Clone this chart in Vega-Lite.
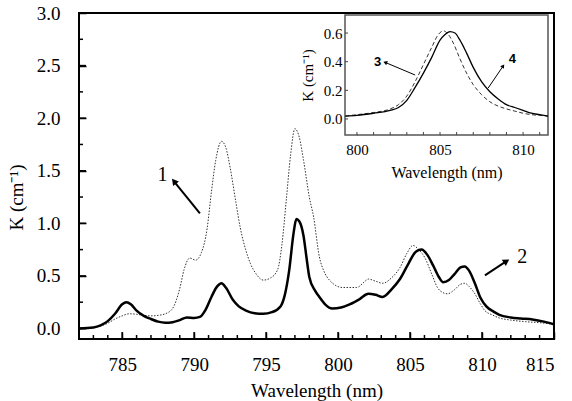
{
  "$schema": "https://vega.github.io/schema/vega-lite/v6.json",
  "width": 475,
  "height": 326,
  "autosize": "none",
  "padding": {"left": 79, "top": 13, "right": 18, "bottom": 62},
  "background": "white",
  "config": {
    "view": {"stroke": "black", "strokeWidth": 2},
    "font": "Liberation Serif",
    "axis": {"grid": false, "domain": false, "labelColor": "black", "titleColor": "black", "titleFontWeight": "normal", "labelFont": "Liberation Serif", "titleFont": "Liberation Serif", "labelOverlap": false}
  },
  "datasets": {
    "main": [
      {"wl": 782, "K": 0.0, "series": "1"}, {"wl": 783, "K": 0.01, "series": "1"}, {"wl": 784, "K": 0.05, "series": "1"}, {"wl": 784.5, "K": 0.09, "series": "1"}, {"wl": 785, "K": 0.12, "series": "1"}, {"wl": 785.5, "K": 0.14, "series": "1"}, {"wl": 786, "K": 0.135, "series": "1"}, {"wl": 786.5, "K": 0.125, "series": "1"}, {"wl": 787, "K": 0.12, "series": "1"}, {"wl": 787.5, "K": 0.125, "series": "1"}, {"wl": 788, "K": 0.14, "series": "1"}, {"wl": 788.5, "K": 0.19, "series": "1"}, {"wl": 789, "K": 0.38, "series": "1"}, {"wl": 789.3, "K": 0.56, "series": "1"}, {"wl": 789.7, "K": 0.67, "series": "1"}, {"wl": 790.1, "K": 0.65, "series": "1"}, {"wl": 790.5, "K": 0.72, "series": "1"}, {"wl": 790.9, "K": 0.95, "series": "1"}, {"wl": 791.2, "K": 1.3, "series": "1"}, {"wl": 791.5, "K": 1.6, "series": "1"}, {"wl": 791.9, "K": 1.78, "series": "1"}, {"wl": 792.2, "K": 1.72, "series": "1"}, {"wl": 792.5, "K": 1.53, "series": "1"}, {"wl": 792.9, "K": 1.2, "series": "1"}, {"wl": 793.2, "K": 0.96, "series": "1"}, {"wl": 793.6, "K": 0.74, "series": "1"}, {"wl": 793.9, "K": 0.62, "series": "1"}, {"wl": 794.3, "K": 0.52, "series": "1"}, {"wl": 794.8, "K": 0.46, "series": "1"}, {"wl": 795.3, "K": 0.48, "series": "1"}, {"wl": 795.8, "K": 0.56, "series": "1"}, {"wl": 796.1, "K": 0.8, "series": "1"}, {"wl": 796.4, "K": 1.22, "series": "1"}, {"wl": 796.7, "K": 1.65, "series": "1"}, {"wl": 797.0, "K": 1.9, "series": "1"}, {"wl": 797.3, "K": 1.82, "series": "1"}, {"wl": 797.6, "K": 1.6, "series": "1"}, {"wl": 798.0, "K": 1.25, "series": "1"}, {"wl": 798.3, "K": 1.06, "series": "1"}, {"wl": 798.7, "K": 0.68, "series": "1"}, {"wl": 799.0, "K": 0.55, "series": "1"}, {"wl": 799.4, "K": 0.46, "series": "1"}, {"wl": 800.3, "K": 0.39, "series": "1"}, {"wl": 801.3, "K": 0.39, "series": "1"}, {"wl": 801.8, "K": 0.44, "series": "1"}, {"wl": 802.1, "K": 0.47, "series": "1"}, {"wl": 802.6, "K": 0.45, "series": "1"}, {"wl": 803.1, "K": 0.43, "series": "1"}, {"wl": 803.7, "K": 0.48, "series": "1"}, {"wl": 804.3, "K": 0.58, "series": "1"}, {"wl": 804.8, "K": 0.72, "series": "1"}, {"wl": 805.2, "K": 0.79, "series": "1"}, {"wl": 805.6, "K": 0.75, "series": "1"}, {"wl": 806.0, "K": 0.68, "series": "1"}, {"wl": 806.5, "K": 0.52, "series": "1"}, {"wl": 806.9, "K": 0.39, "series": "1"}, {"wl": 807.3, "K": 0.34, "series": "1"}, {"wl": 807.6, "K": 0.33, "series": "1"}, {"wl": 808.1, "K": 0.37, "series": "1"}, {"wl": 808.5, "K": 0.42, "series": "1"}, {"wl": 808.8, "K": 0.43, "series": "1"}, {"wl": 809.1, "K": 0.4, "series": "1"}, {"wl": 809.5, "K": 0.33, "series": "1"}, {"wl": 809.9, "K": 0.23, "series": "1"}, {"wl": 810.2, "K": 0.17, "series": "1"}, {"wl": 810.7, "K": 0.13, "series": "1"}, {"wl": 811.2, "K": 0.1, "series": "1"}, {"wl": 812, "K": 0.08, "series": "1"}, {"wl": 813, "K": 0.065, "series": "1"}, {"wl": 814, "K": 0.055, "series": "1"}, {"wl": 815, "K": 0.04, "series": "1"},
      {"wl": 782, "K": 0.0, "series": "2"}, {"wl": 783, "K": 0.01, "series": "2"}, {"wl": 783.5, "K": 0.03, "series": "2"}, {"wl": 784, "K": 0.07, "series": "2"}, {"wl": 784.5, "K": 0.14, "series": "2"}, {"wl": 785, "K": 0.23, "series": "2"}, {"wl": 785.3, "K": 0.25, "series": "2"}, {"wl": 785.6, "K": 0.23, "series": "2"}, {"wl": 786, "K": 0.17, "series": "2"}, {"wl": 786.5, "K": 0.12, "series": "2"}, {"wl": 787, "K": 0.09, "series": "2"}, {"wl": 787.5, "K": 0.065, "series": "2"}, {"wl": 788, "K": 0.055, "series": "2"}, {"wl": 788.5, "K": 0.06, "series": "2"}, {"wl": 789, "K": 0.08, "series": "2"}, {"wl": 789.5, "K": 0.105, "series": "2"}, {"wl": 790, "K": 0.1, "series": "2"}, {"wl": 790.4, "K": 0.11, "series": "2"}, {"wl": 790.8, "K": 0.18, "series": "2"}, {"wl": 791.2, "K": 0.3, "series": "2"}, {"wl": 791.6, "K": 0.4, "series": "2"}, {"wl": 791.9, "K": 0.43, "series": "2"}, {"wl": 792.2, "K": 0.39, "series": "2"}, {"wl": 792.7, "K": 0.27, "series": "2"}, {"wl": 793.1, "K": 0.21, "series": "2"}, {"wl": 793.6, "K": 0.17, "series": "2"}, {"wl": 794.2, "K": 0.145, "series": "2"}, {"wl": 794.8, "K": 0.14, "series": "2"}, {"wl": 795.4, "K": 0.155, "series": "2"}, {"wl": 796.0, "K": 0.21, "series": "2"}, {"wl": 796.3, "K": 0.32, "series": "2"}, {"wl": 796.6, "K": 0.55, "series": "2"}, {"wl": 796.9, "K": 0.9, "series": "2"}, {"wl": 797.1, "K": 1.04, "series": "2"}, {"wl": 797.3, "K": 1.02, "series": "2"}, {"wl": 797.6, "K": 0.88, "series": "2"}, {"wl": 797.8, "K": 0.68, "series": "2"}, {"wl": 798.0, "K": 0.49, "series": "2"}, {"wl": 798.4, "K": 0.36, "series": "2"}, {"wl": 798.7, "K": 0.3, "series": "2"}, {"wl": 799.1, "K": 0.23, "series": "2"}, {"wl": 799.6, "K": 0.19, "series": "2"}, {"wl": 800.2, "K": 0.2, "series": "2"}, {"wl": 800.8, "K": 0.23, "series": "2"}, {"wl": 801.5, "K": 0.28, "series": "2"}, {"wl": 802.1, "K": 0.33, "series": "2"}, {"wl": 802.6, "K": 0.32, "series": "2"}, {"wl": 803.1, "K": 0.3, "series": "2"}, {"wl": 803.7, "K": 0.37, "series": "2"}, {"wl": 804.3, "K": 0.47, "series": "2"}, {"wl": 804.9, "K": 0.62, "series": "2"}, {"wl": 805.4, "K": 0.73, "series": "2"}, {"wl": 805.8, "K": 0.75, "series": "2"}, {"wl": 806.2, "K": 0.7, "series": "2"}, {"wl": 806.6, "K": 0.6, "series": "2"}, {"wl": 807.0, "K": 0.49, "series": "2"}, {"wl": 807.3, "K": 0.44, "series": "2"}, {"wl": 807.7, "K": 0.46, "series": "2"}, {"wl": 808.1, "K": 0.52, "series": "2"}, {"wl": 808.5, "K": 0.58, "series": "2"}, {"wl": 808.8, "K": 0.59, "series": "2"}, {"wl": 809.1, "K": 0.55, "series": "2"}, {"wl": 809.5, "K": 0.43, "series": "2"}, {"wl": 809.9, "K": 0.29, "series": "2"}, {"wl": 810.3, "K": 0.21, "series": "2"}, {"wl": 810.8, "K": 0.16, "series": "2"}, {"wl": 811.2, "K": 0.13, "series": "2"}, {"wl": 812, "K": 0.105, "series": "2"}, {"wl": 812.7, "K": 0.095, "series": "2"}, {"wl": 813.5, "K": 0.085, "series": "2"}, {"wl": 814.3, "K": 0.065, "series": "2"}, {"wl": 815, "K": 0.04, "series": "2"}
    ],
    "inset": [
      {"wl": 799.3, "K": 0.02, "series": "4"}, {"wl": 800, "K": 0.025, "series": "4"}, {"wl": 801, "K": 0.04, "series": "4"}, {"wl": 802, "K": 0.06, "series": "4"}, {"wl": 802.5, "K": 0.08, "series": "4"}, {"wl": 803, "K": 0.13, "series": "4"}, {"wl": 803.5, "K": 0.22, "series": "4"}, {"wl": 804, "K": 0.32, "series": "4"}, {"wl": 804.5, "K": 0.43, "series": "4"}, {"wl": 805, "K": 0.55, "series": "4"}, {"wl": 805.3, "K": 0.59, "series": "4"}, {"wl": 805.6, "K": 0.61, "series": "4"}, {"wl": 805.9, "K": 0.6, "series": "4"}, {"wl": 806.2, "K": 0.55, "series": "4"}, {"wl": 806.6, "K": 0.46, "series": "4"}, {"wl": 807, "K": 0.36, "series": "4"}, {"wl": 807.5, "K": 0.26, "series": "4"}, {"wl": 808, "K": 0.19, "series": "4"}, {"wl": 808.5, "K": 0.14, "series": "4"}, {"wl": 809, "K": 0.1, "series": "4"}, {"wl": 809.5, "K": 0.08, "series": "4"}, {"wl": 810, "K": 0.06, "series": "4"}, {"wl": 810.5, "K": 0.04, "series": "4"}, {"wl": 811, "K": 0.03, "series": "4"}, {"wl": 811.5, "K": 0.02, "series": "4"},
      {"wl": 799.3, "K": 0.02, "series": "3"}, {"wl": 800, "K": 0.03, "series": "3"}, {"wl": 801, "K": 0.045, "series": "3"}, {"wl": 802, "K": 0.07, "series": "3"}, {"wl": 802.5, "K": 0.1, "series": "3"}, {"wl": 803, "K": 0.16, "series": "3"}, {"wl": 803.5, "K": 0.26, "series": "3"}, {"wl": 804, "K": 0.38, "series": "3"}, {"wl": 804.5, "K": 0.5, "series": "3"}, {"wl": 804.9, "K": 0.59, "series": "3"}, {"wl": 805.2, "K": 0.615, "series": "3"}, {"wl": 805.5, "K": 0.59, "series": "3"}, {"wl": 805.8, "K": 0.53, "series": "3"}, {"wl": 806.2, "K": 0.42, "series": "3"}, {"wl": 806.6, "K": 0.32, "series": "3"}, {"wl": 807, "K": 0.24, "series": "3"}, {"wl": 807.5, "K": 0.17, "series": "3"}, {"wl": 808, "K": 0.12, "series": "3"}, {"wl": 808.5, "K": 0.09, "series": "3"}, {"wl": 809, "K": 0.07, "series": "3"}, {"wl": 809.5, "K": 0.055, "series": "3"}, {"wl": 810, "K": 0.04, "series": "3"}, {"wl": 810.5, "K": 0.03, "series": "3"}, {"wl": 811, "K": 0.025, "series": "3"}, {"wl": 811.5, "K": 0.02, "series": "3"}
    ],
    "mainNotes": [
      {"label": "1", "tx": 787.8, "tK": 1.46, "wl": 790.4, "K": 1.095, "wl2": 788.6, "K2": 1.4},
      {"label": "2", "tx": 812.8, "tK": 0.68, "wl": 810.2, "K": 0.505, "wl2": 811.7, "K2": 0.64}
    ],
    "insetNotes": [
      {"label": "3", "tx": 801.25, "tK": 0.40, "wl": 803.5, "K": 0.307, "wl2": 801.7, "K2": 0.395},
      {"label": "4", "tx": 809.35, "tK": 0.42, "wl": 807.9, "K": 0.216, "wl2": 808.8, "K2": 0.37}
    ],
    "xTicks": [
      {"wl": 782, "kind": "minor"}, {"wl": 783, "kind": "minor"}, {"wl": 784, "kind": "minor"}, {"wl": 785, "kind": "major"}, {"wl": 786, "kind": "minor"}, {"wl": 787, "kind": "minor"}, {"wl": 788, "kind": "minor"}, {"wl": 789, "kind": "minor"}, {"wl": 790, "kind": "major"}, {"wl": 791, "kind": "minor"}, {"wl": 792, "kind": "minor"}, {"wl": 793, "kind": "minor"}, {"wl": 794, "kind": "minor"}, {"wl": 795, "kind": "major"}, {"wl": 796, "kind": "minor"}, {"wl": 797, "kind": "minor"}, {"wl": 798, "kind": "minor"}, {"wl": 799, "kind": "minor"}, {"wl": 800, "kind": "major"}, {"wl": 801, "kind": "minor"}, {"wl": 802, "kind": "minor"}, {"wl": 803, "kind": "minor"}, {"wl": 804, "kind": "minor"}, {"wl": 805, "kind": "major"}, {"wl": 806, "kind": "minor"}, {"wl": 807, "kind": "minor"}, {"wl": 808, "kind": "minor"}, {"wl": 809, "kind": "minor"}, {"wl": 810, "kind": "major"}, {"wl": 811, "kind": "minor"}, {"wl": 812, "kind": "minor"}, {"wl": 813, "kind": "minor"}, {"wl": 814, "kind": "minor"}
    ],
    "yTicks": [
      {"K": 0, "kind": "major"}, {"K": 0.25, "kind": "minor"}, {"K": 0.5, "kind": "major"}, {"K": 0.75, "kind": "minor"}, {"K": 1.0, "kind": "major"}, {"K": 1.25, "kind": "minor"}, {"K": 1.5, "kind": "major"}, {"K": 1.75, "kind": "minor"}, {"K": 2.0, "kind": "major"}, {"K": 2.25, "kind": "minor"}, {"K": 2.5, "kind": "major"}, {"K": 2.75, "kind": "minor"}
    ],
    "insetXTicks": [{"wl": 800}, {"wl": 801}, {"wl": 802}, {"wl": 803}, {"wl": 804}, {"wl": 805}, {"wl": 806}, {"wl": 807}, {"wl": 808}, {"wl": 809}, {"wl": 810}, {"wl": 811}],
    "insetYTicks": [{"K": 0}, {"K": 0.2}, {"K": 0.4}, {"K": 0.6}]
  },
  "layer": [
    {
      "layer": [
        {
          "data": {"name": "main"},
          "transform": [{"filter": "datum.series === '1'"}],
          "mark": {"type": "line", "interpolate": "monotone", "color": "#333", "strokeWidth": 1, "strokeDash": [1.5, 1.5]},
          "encoding": {
            "x": {"field": "wl", "type": "quantitative",
              "scale": {"domain": [782, 815], "nice": false, "zero": false},
              "axis": {
                "orient": "bottom", "offset": -7,
                "title": "Wavelength (nm)",
                "values": [785, 790, 795, 800, 805, 810, 815],
                "tickSize": 7, "tickWidth": 1.5, "tickColor": "#000000",
                "labelFontSize": 19, "labelPadding": 16,
                "titleFontSize": 19, "titlePadding": 7
              }},
            "y": {"field": "K", "type": "quantitative",
              "scale": {"domain": [-0.1, 3.0], "nice": false, "zero": false},
              "axis": {
                "orient": "left", "offset": -7,
                "title": "K (cm⁻¹)",
                "values": [0, 0.5, 1, 1.5, 2, 2.5, 3],
                "format": ".1f",
                "tickSize": 7, "tickWidth": 1.5, "tickColor": "#000000",
                "labelFontSize": 19, "labelPadding": 19,
                "titleFontSize": 19,
                "titleX": -70, "titleY": 184, "titleBaseline": "middle", "titleAlign": "center", "titleAngle": 270
              }}
          }
        },
        {
          "data": {"name": "main"},
          "transform": [{"filter": "datum.series === '2'"}],
          "mark": {"type": "line", "interpolate": "monotone", "color": "black", "strokeWidth": 2.5},
          "encoding": {
            "x": {"field": "wl", "type": "quantitative", "axis": null},
            "y": {"field": "K", "type": "quantitative", "axis": null}
          }
        },
        {
          "data": {"name": "mainNotes"},
          "mark": {"type": "rule", "color": "black", "strokeWidth": 2},
          "encoding": {
            "x": {"field": "wl", "type": "quantitative", "axis": null},
            "y": {"field": "K", "type": "quantitative", "axis": null},
            "x2": {"field": "wl2"},
            "y2": {"field": "K2"}
          }
        },
        {
          "data": {"name": "mainNotes"},
          "transform": [{"filter": "datum.label === '1'"}],
          "mark": {"type": "point", "shape": "triangle-up", "filled": true, "color": "black", "size": 55, "angle": 321, "opacity": 1},
          "encoding": {
            "x": {"field": "wl2", "type": "quantitative", "axis": null},
            "y": {"field": "K2", "type": "quantitative", "axis": null}
          }
        },
        {
          "data": {"name": "mainNotes"},
          "transform": [{"filter": "datum.label === '2'"}],
          "mark": {"type": "point", "shape": "triangle-up", "filled": true, "color": "black", "size": 55, "angle": 57, "opacity": 1},
          "encoding": {
            "x": {"field": "wl2", "type": "quantitative", "axis": null},
            "y": {"field": "K2", "type": "quantitative", "axis": null}
          }
        },
        {
          "data": {"name": "mainNotes"},
          "mark": {"type": "text", "font": "Liberation Serif", "fontSize": 20, "color": "black"},
          "encoding": {
            "x": {"field": "tx", "type": "quantitative", "axis": null},
            "y": {"field": "tK", "type": "quantitative", "axis": null},
            "text": {"field": "label"}
          }
        }
      ],
      "resolve": {"axis": {"x": "independent", "y": "independent"}}
    },
    {
      "layer": [
        {
          "data": {"name": "xTicks"},
          "transform": [{"filter": "datum.kind === 'major'"}],
          "mark": {"type": "tick", "orient": "vertical", "size": 7, "thickness": 1.5, "color": "black", "opacity": 1, "yOffset": -3.5},
          "encoding": {
            "x": {"field": "wl", "type": "quantitative", "axis": null, "scale": {"domain": [782, 815], "nice": false, "zero": false}},
            "y": {"datum": -0.1, "type": "quantitative", "axis": null, "scale": {"domain": [-0.1, 3.0], "nice": false, "zero": false}}
          }
        },
        {
          "data": {"name": "xTicks"},
          "transform": [{"filter": "datum.kind === 'minor'"}],
          "mark": {"type": "tick", "orient": "vertical", "size": 4, "thickness": 1.5, "color": "black", "opacity": 1, "yOffset": -2},
          "encoding": {
            "x": {"field": "wl", "type": "quantitative", "axis": null},
            "y": {"datum": -0.1, "type": "quantitative", "axis": null}
          }
        },
        {
          "data": {"name": "yTicks"},
          "transform": [{"filter": "datum.kind === 'major'"}],
          "mark": {"type": "tick", "orient": "horizontal", "size": 7, "thickness": 1.5, "color": "black", "opacity": 1, "xOffset": 3.5},
          "encoding": {
            "y": {"field": "K", "type": "quantitative", "axis": null},
            "x": {"datum": 782, "type": "quantitative", "axis": null}
          }
        },
        {
          "data": {"name": "yTicks"},
          "transform": [{"filter": "datum.kind === 'minor'"}],
          "mark": {"type": "tick", "orient": "horizontal", "size": 4, "thickness": 1.5, "color": "black", "opacity": 1, "xOffset": 2},
          "encoding": {
            "y": {"field": "K", "type": "quantitative", "axis": null},
            "x": {"datum": 782, "type": "quantitative", "axis": null}
          }
        }
      ]
    },
    {
      "layer": [
        {
          "data": {"values": [{"frame": "inset"}]},
          "mark": {"type": "rect", "fill": "white", "stroke": "#555", "strokeWidth": 1.5},
          "encoding": {
            "x": {"datum": 799.28, "type": "quantitative",
              "scale": {"domain": [799.28, 811.5], "range": [266, 469], "nice": false, "zero": false},
              "axis": {
                "orient": "bottom", "offset": -207,
                "title": "Wavelength (nm)",
                "values": [800, 805, 810],
                "tickSize": 3, "tickColor": "#555555", "tickWidth": 1,
                "labelFontSize": 15, "labelPadding": 7,
                "titleFontSize": 16, "titlePadding": 7
              }},
            "x2": {"datum": 811.5},
            "y": {"datum": -0.112, "type": "quantitative",
              "scale": {"domain": [-0.112, 0.726], "range": [122, 2], "nice": false, "zero": false},
              "axis": {
                "orient": "left", "offset": -269,
                "title": "K (cm⁻¹)",
                "values": [0, 0.2, 0.4, 0.6],
                "format": ".1f",
                "tickSize": 3, "tickColor": "#555555", "tickWidth": 1,
                "labelFontSize": 15, "labelPadding": 3,
                "titleFontSize": 15, "titlePadding": 8
              }},
            "y2": {"datum": 0.726}
          }
        },
        {
          "data": {"name": "insetXTicks"},
          "mark": {"type": "tick", "orient": "vertical", "size": 3, "thickness": 1, "color": "#444", "opacity": 1, "yOffset": -1.5},
          "encoding": {
            "x": {"field": "wl", "type": "quantitative"},
            "y": {"datum": -0.112, "type": "quantitative"}
          }
        },
        {
          "data": {"name": "insetYTicks"},
          "mark": {"type": "tick", "orient": "horizontal", "size": 3, "thickness": 1, "color": "#444", "opacity": 1, "xOffset": 1.5},
          "encoding": {
            "y": {"field": "K", "type": "quantitative"},
            "x": {"datum": 799.28, "type": "quantitative"}
          }
        },
        {
          "data": {"name": "inset"},
          "transform": [{"filter": "datum.series === '3'"}],
          "mark": {"type": "line", "interpolate": "monotone", "color": "#333", "strokeWidth": 1, "strokeDash": [4, 2.5]},
          "encoding": {
            "x": {"field": "wl", "type": "quantitative"},
            "y": {"field": "K", "type": "quantitative"}
          }
        },
        {
          "data": {"name": "inset"},
          "transform": [{"filter": "datum.series === '4'"}],
          "mark": {"type": "line", "interpolate": "monotone", "color": "black", "strokeWidth": 1.3},
          "encoding": {
            "x": {"field": "wl", "type": "quantitative"},
            "y": {"field": "K", "type": "quantitative"}
          }
        },
        {
          "data": {"name": "insetNotes"},
          "mark": {"type": "rule", "color": "black", "strokeWidth": 1},
          "encoding": {
            "x": {"field": "wl", "type": "quantitative"},
            "y": {"field": "K", "type": "quantitative"},
            "x2": {"field": "wl2"},
            "y2": {"field": "K2"}
          }
        },
        {
          "data": {"name": "insetNotes"},
          "transform": [{"filter": "datum.label === '3'"}],
          "mark": {"type": "point", "shape": "triangle-up", "filled": true, "color": "black", "size": 20, "angle": 292, "opacity": 1},
          "encoding": {
            "x": {"field": "wl2", "type": "quantitative"},
            "y": {"field": "K2", "type": "quantitative"}
          }
        },
        {
          "data": {"name": "insetNotes"},
          "transform": [{"filter": "datum.label === '4'"}],
          "mark": {"type": "point", "shape": "triangle-up", "filled": true, "color": "black", "size": 20, "angle": 35, "opacity": 1},
          "encoding": {
            "x": {"field": "wl2", "type": "quantitative"},
            "y": {"field": "K2", "type": "quantitative"}
          }
        },
        {
          "data": {"name": "insetNotes"},
          "mark": {"type": "text", "font": "Liberation Sans", "fontSize": 13, "fontWeight": "bold", "color": "black"},
          "encoding": {
            "x": {"field": "tx", "type": "quantitative"},
            "y": {"field": "tK", "type": "quantitative"},
            "text": {"field": "label"}
          }
        }
      ]
    }
  ],
  "resolve": {"scale": {"x": "independent", "y": "independent"}, "axis": {"x": "independent", "y": "independent"}}
}
